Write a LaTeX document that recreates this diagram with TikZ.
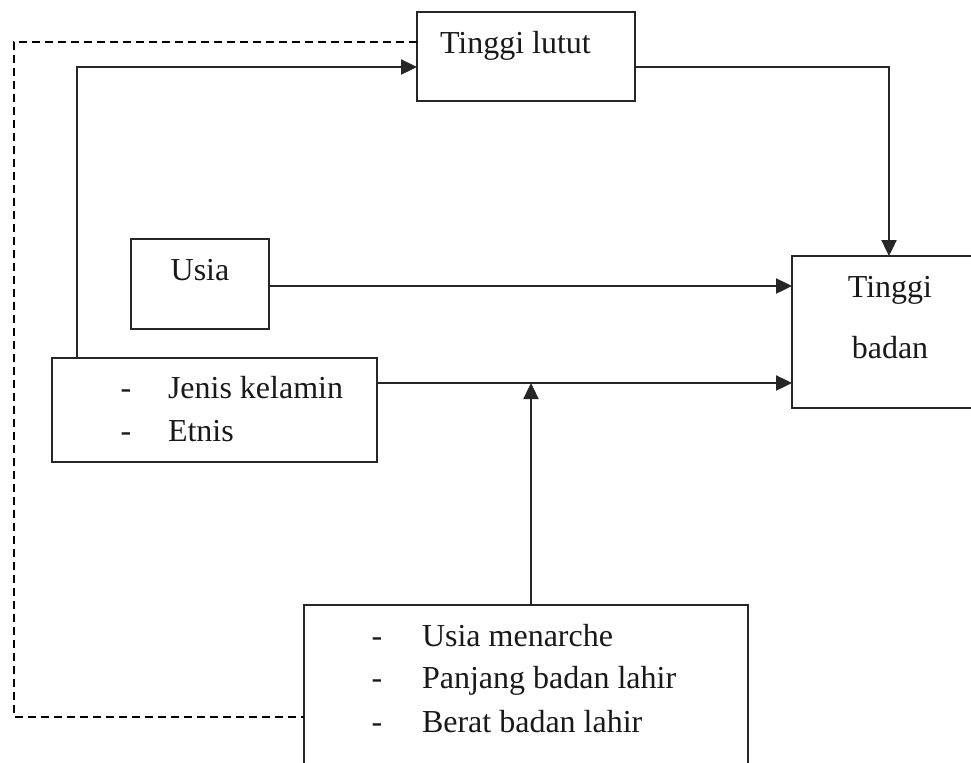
\documentclass[tikz,border=0pt]{standalone}
\usepackage{fontspec}
\setmainfont{Liberation Serif}
\usetikzlibrary{arrows.meta}
\begin{document}
\begin{tikzpicture}[x=0.5pt,y=-0.5pt,
  box/.style={draw=black!85,line width=1.2pt,rectangle,inner sep=0pt,outer sep=0pt,anchor=north west},
  txt/.style={inner sep=0pt,outer sep=0pt,font=\fontsize{16}{19}\selectfont,text=black!90},
  arr/.style={draw=black!85,line width=1.2pt,-{Triangle[length=8pt,width=7.5pt]}},
  dsh/.style={draw=black,line width=0.9pt,dash pattern=on 4pt off 2.5pt}]
\useasboundingbox (0,0) rectangle (971,762);
\clip (0,0) rectangle (971,762);
% boxes
\node[box,minimum width=109pt,minimum height=44.5pt] (tl) at (417,12) {};
\node[box,minimum width=69pt,minimum height=45pt] (usia) at (131,239) {};
\node[box,minimum width=98pt,minimum height=76pt] (tb) at (792,256) {};
\node[box,minimum width=162.5pt,minimum height=52pt] (jk) at (52,358) {};
\node[box,minimum width=222pt,minimum height=85pt] (bt) at (304,605) {};
% texts
\node[txt,anchor=base west] (tlt) at (440,53) {Tinggi lutut};
\node[txt,anchor=base] (ut) at (200,280) {Usia};
\node[txt,anchor=base] (tbt1) at (890,297) {Tinggi};
\node[txt,anchor=base] (tbt2) at (890,358) {badan};
\node[txt,anchor=base] (jkd1) at (126,398) {-};
\node[txt,anchor=base west] (jkt1) at (168,398) {Jenis kelamin};
\node[txt,anchor=base] (jkd2) at (126,441) {-};
\node[txt,anchor=base west] (jkt2) at (168,441) {Etnis};
\node[txt,anchor=base] (btd1) at (377,646) {-};
\node[txt,anchor=base west] (btt1) at (422,646) {Usia menarche};
\node[txt,anchor=base] (btd2) at (377,688) {-};
\node[txt,anchor=base west] (btt2) at (422,688) {Panjang badan lahir};
\node[txt,anchor=base] (btd3) at (377,732) {-};
\node[txt,anchor=base west] (btt3) at (422,732) {Berat badan lahir};
% junction on the Jenis kelamin line
\coordinate (j) at (531,383);
% connectors
\draw[arr] (77,0 |- jk.north) |- (tl.west |- 0,67);
\draw[arr] (tl.east |- 0,67) -| (889,0 |- tb.north);
\draw[arr] (usia.east |- 0,286) -- (tb.west |- 0,286);
\draw[arr] (jk.east |- 0,383) -- (tb.west |- 0,383);
\draw[arr] (531,0 |- bt.north) -- (j);
\draw[dsh] (tl.west |- 0,42) -| (14,717) -- (bt.west |- 0,717);
\end{tikzpicture}
\end{document}
